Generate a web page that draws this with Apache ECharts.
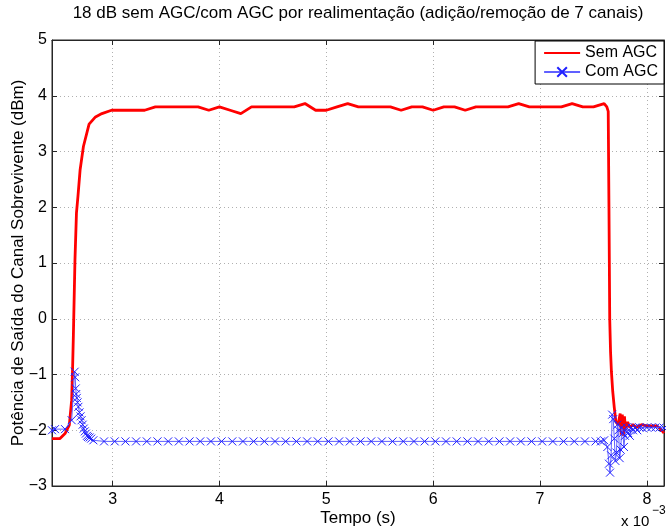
<!DOCTYPE html>
<html>
<head>
<meta charset="utf-8">
<script src="https://cdn.jsdelivr.net/npm/echarts@6/dist/echarts.min.js"></script>
<style>
html,body{margin:0;padding:0;background:#fff;}
#c{width:666px;height:528px;}
</style>
</head>
<body>
<div id="c"></div>
<script>
const titleText = '18 dB sem AGC/com AGC por realimentação (adição/remoção de 7 canais)';
const xName = 'Tempo (s)';
const yName = 'Potência de Saída do Canal Sobrevivente (dBm)';
const xTicks = [3, 4, 5, 6, 7, 8];
const seriesNames = ['Sem AGC', 'Com AGC'];

// Sem AGC (time in 1e-3 s, power in dBm)
const semT = [2.433, 2.508, 2.555, 2.595, 2.617, 2.626, 2.633, 2.648, 2.662, 2.676, 2.696, 2.727, 2.78, 2.84, 2.90, 2.99,
  3.1, 3.2, 3.3, 3.4, 3.5, 3.6, 3.7, 3.8, 3.9, 4.0, 4.1, 4.2, 4.3, 4.4, 4.5, 4.6, 4.7, 4.8, 4.9, 5.0,
  5.1, 5.2, 5.3, 5.4, 5.5, 5.6, 5.7, 5.8, 5.9, 6.0, 6.1, 6.2, 6.3, 6.4, 6.5, 6.6, 6.7, 6.8, 6.9, 7.0,
  7.1, 7.2, 7.3, 7.4, 7.5, 7.6, 7.625, 7.638, 7.645, 7.652, 7.66, 7.668, 7.68, 7.695, 7.71, 7.73,
  7.75, 7.76, 7.77, 7.78, 7.79, 7.80, 7.82, 7.84, 7.87, 7.90, 7.95, 8.0, 8.09, 8.13, 8.16];
const semV = [-2.15, -2.15, -2.06, -1.91, -1.46, -0.86, -0.3, 1.06, 1.9, 2.2, 2.67, 3.09, 3.49, 3.62, 3.68, 3.74,
  3.74, 3.74, 3.74, 3.80, 3.80, 3.80, 3.80, 3.80, 3.74, 3.80, 3.74, 3.68, 3.80, 3.80, 3.80, 3.80, 3.80, 3.86, 3.74, 3.74,
  3.80, 3.86, 3.80, 3.80, 3.80, 3.80, 3.74, 3.80, 3.80, 3.74, 3.80, 3.80, 3.74, 3.80, 3.80, 3.80, 3.80, 3.86, 3.80, 3.80,
  3.80, 3.80, 3.86, 3.80, 3.80, 3.86, 3.80, 3.72, 2.0, 0.0, -0.6, -0.95, -1.3, -1.6, -1.85, -1.9,
  -1.7, -2.08, -1.72, -2.1, -1.75, -2.0, -1.85, -1.95, -1.9, -1.95, -1.9, -1.92, -1.92, -1.98, -2.05];

// Com AGC
const comT = [2.433, 2.461, 2.555, 2.617, 2.645, 2.650, 2.655, 2.660, 2.665, 2.672, 2.680, 2.690, 2.700, 2.710, 2.720,
  2.730, 2.740, 2.750, 2.760, 2.770, 2.785, 2.800, 2.82,
  2.92, 3.02, 3.12, 3.22, 3.32, 3.42, 3.52, 3.62, 3.72, 3.82, 3.92, 4.02, 4.12, 4.22, 4.32, 4.42, 4.52, 4.62, 4.72,
  4.82, 4.92, 5.02, 5.12, 5.22, 5.32, 5.42, 5.52, 5.62, 5.72, 5.82, 5.92, 6.02, 6.12, 6.22, 6.32, 6.42, 6.52, 6.62,
  6.72, 6.82, 6.92, 7.02, 7.12, 7.22, 7.32, 7.42, 7.52,
  7.57, 7.60, 7.63, 7.645, 7.655, 7.665, 7.675, 7.685, 7.695, 7.705, 7.715, 7.725, 7.735, 7.745, 7.755, 7.765,
  7.775, 7.785, 7.795, 7.81, 7.825, 7.84, 7.855, 7.87, 7.89, 7.91, 7.93, 7.96, 8.0, 8.04, 8.08, 8.12, 8.16];
const comV = [-2.0, -1.98, -1.98, -1.82, -0.95, -1.05, -1.25, -1.35, -1.42, -1.5, -1.58, -1.68, -1.75, -1.82, -1.9,
  -1.97, -2.02, -2.06, -2.1, -2.12, -2.13, -2.15, -2.18,
  -2.2, -2.2, -2.2, -2.2, -2.2, -2.2, -2.2, -2.2, -2.2, -2.2, -2.2, -2.2, -2.2, -2.2, -2.2, -2.2, -2.2, -2.2, -2.2,
  -2.2, -2.2, -2.2, -2.2, -2.2, -2.2, -2.2, -2.2, -2.2, -2.2, -2.2, -2.2, -2.2, -2.2, -2.2, -2.2, -2.2, -2.2, -2.2,
  -2.2, -2.2, -2.2, -2.2, -2.2, -2.2, -2.2, -2.2, -2.2,
  -2.2, -2.18, -2.3, -2.6, -2.76, -2.45, -1.72, -1.8, -2.15, -2.55, -2.4, -1.9, -2.0, -2.5, -2.35, -1.95,
  -2.05, -2.3, -2.1, -1.95, -2.05, -2.1, -1.95, -2.0, -1.95, -2.0, -1.95, -1.96, -1.95, -1.95, -1.95, -1.95, -1.96];

const FONT = '"Liberation Sans", Arial, Helvetica, sans-serif';
const zip = (a, b) => a.map((t, i) => [t, b[i]]);
const minus = v => String(v).replace('-', '\u2212');
const axisCol = '#262626';
const gridCol = '#b0b0b0';

const chart = echarts.init(document.getElementById('c'), null, {renderer: 'canvas'});
chart.setOption({
  animation: false,
  backgroundColor: '#fff',
  textStyle: {fontFamily: FONT},
  grid: {left: 52, right: 2, top: 40, bottom: 42, show: true, borderColor: axisCol, borderWidth: 1,
    backgroundColor: '#fff', containLabel: false, outerBoundsMode: 'none'},
  graphic: [
    {type: 'text', x: 358, y: 13, style: {text: titleText, font: '17px ' + FONT, fill: '#000', textAlign: 'center', textVerticalAlign: 'middle'}},
    {type: 'text', x: 621, y: 522, style: {text: 'x 10', font: '15px ' + FONT, fill: '#000', textVerticalAlign: 'middle'}},
    {type: 'text', x: 652, y: 511, style: {text: '\u22123', font: '12px ' + FONT, fill: '#000', textVerticalAlign: 'middle'}}
  ],
  legend: {
    orient: 'vertical', right: 2, top: 41,
    data: [{name: seriesNames[0], itemStyle: {opacity: 0}}, {name: seriesNames[1]}],
    backgroundColor: '#fff', borderColor: '#000', borderWidth: 1, borderRadius: 0,
    padding: [4, 6, 4, 8], itemGap: 3, itemWidth: 36, itemHeight: 12,
    textStyle: {fontSize: 16, color: '#000', fontFamily: FONT}
  },
  xAxis: [{
    type: 'value', min: 2.433, max: 8.16, position: 'bottom',
    name: xName, nameLocation: 'middle', nameGap: 24, nameMoveOverlap: false,
    nameTextStyle: {fontSize: 17, color: '#000', fontFamily: FONT},
    axisLine: {show: true, onZero: false, lineStyle: {color: axisCol}},
    axisTick: {show: true, inside: true, length: 5, customValues: xTicks, lineStyle: {color: axisCol}},
    axisLabel: {show: true, customValues: xTicks, margin: 6, fontSize: 16, color: '#000', fontFamily: FONT},
    splitLine: {show: true, lineStyle: {color: gridCol, type: [1, 3], width: 1}}
  }, {
    type: 'value', min: 2.433, max: 8.16, position: 'top',
    axisLine: {show: true, onZero: false, lineStyle: {color: axisCol}},
    axisTick: {show: true, inside: true, length: 5, customValues: xTicks, lineStyle: {color: axisCol}},
    axisLabel: {show: false},
    splitLine: {show: false}
  }],
  yAxis: [{
    type: 'value', min: -3, max: 5, interval: 1, position: 'left',
    name: yName, nameLocation: 'middle', nameGap: 25, nameRotate: 90, nameMoveOverlap: false,
    nameTextStyle: {fontSize: 17, color: '#000', fontFamily: FONT},
    axisLine: {show: true, onZero: false, lineStyle: {color: axisCol}},
    axisTick: {show: true, inside: true, length: 5, lineStyle: {color: axisCol}},
    axisLabel: {show: true, margin: 5, fontSize: 16, color: '#000', fontFamily: FONT, formatter: minus},
    splitLine: {show: true, lineStyle: {color: gridCol, type: [1, 3], width: 1}}
  }, {
    type: 'value', min: -3, max: 5, interval: 1, position: 'right',
    axisLine: {show: true, onZero: false, lineStyle: {color: axisCol}},
    axisTick: {show: true, inside: true, length: 5, lineStyle: {color: axisCol}},
    axisLabel: {show: false},
    splitLine: {show: false}
  }],
  series: [{
    name: seriesNames[0], type: 'line', xAxisIndex: 0, yAxisIndex: 0,
    data: zip(semT, semV), showSymbol: false, symbol: 'none',
    lineStyle: {color: '#ff0000', width: 2.8}, itemStyle: {color: '#ff0000'}, z: 3
  }, {
    name: seriesNames[1], type: 'line', xAxisIndex: 0, yAxisIndex: 0,
    data: zip(comT, comV),
    symbol: 'path://M0,0L10,10M10,0L0,10', symbolSize: 8, showAllSymbol: true,
    lineStyle: {color: '#6060ff', width: 1},
    itemStyle: {color: 'rgba(0,0,0,0)', borderColor: '#2020ff', borderWidth: 1},
    z: 4
  }]
});
</script>
</body>
</html>
